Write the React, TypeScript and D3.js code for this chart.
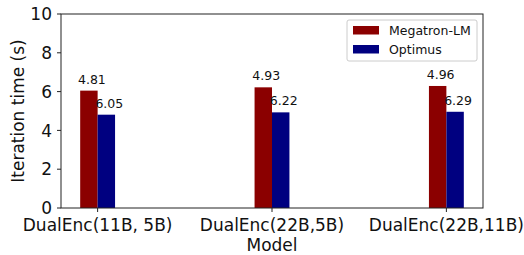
import * as React from 'react';
import * as d3 from 'd3';

const categories = ['DualEnc(11B, 5B)', 'DualEnc(22B,5B)', 'DualEnc(22B,11B)'];
const megatron = [6.05, 6.22, 6.29];
const optimus = [4.81, 4.93, 4.96];
// the labels in the source chart sit on the other series' bar
const megatronLabels = ['4.81', '4.93', '4.96'];
const optimusLabels = ['6.05', '6.22', '6.29'];
const yTicks = [0, 2, 4, 6, 8, 10];

const W = 524;
const H = 255;
const margin = {left: 61, right: 41, top: 14, bottom: 47};
const font = 'DejaVu Sans, sans-serif';

export default function App() {
    const plotW = W - margin.left - margin.right;
    const plotH = H - margin.top - margin.bottom;
    const x = d3.scaleLinear().domain([-0.21, 2.21]).range([0, plotW]);
    const y = d3.scaleLinear().domain([0, 10]).range([plotH, 0]);
    const bw = x(0.1) - x(0);

    return (
        <svg width={W} height={H} style={{position: 'absolute', left: 0, top: 0}} fontFamily={font}>
            <rect width={W} height={H} fill="white"/>
            <g transform={`translate(${margin.left},${margin.top})`}>
                {categories.map((c, i) => (
                    <g key={c}>
                        <rect x={x(i) - bw} y={y(megatron[i])} width={bw} height={plotH - y(megatron[i])} fill="#8b0000"/>
                        <rect x={x(i)} y={y(optimus[i])} width={bw} height={plotH - y(optimus[i])} fill="#000080"/>
                        <text x={x(i) - bw / 2 + 3} y={y(megatron[i]) - 7} fontSize={12.5} textAnchor="middle" fill="#111">{megatronLabels[i]}</text>
                        <text x={x(i) + bw / 2 + 3} y={y(optimus[i]) - 7} fontSize={12.5} textAnchor="middle" fill="#111">{optimusLabels[i]}</text>
                        <line x1={x(i)} x2={x(i)} y1={plotH} y2={plotH + 4} stroke="#222"/>
                        <text x={x(i)} y={plotH + 23} fontSize={17} textAnchor="middle" fill="#111">{c}</text>
                    </g>
                ))}
                {yTicks.map(t => (
                    <g key={t}>
                        <line x1={-4} x2={0} y1={y(t)} y2={y(t)} stroke="#222"/>
                        <text x={-9} y={y(t)} dy="0.36em" fontSize={17} textAnchor="end" fill="#111">{t}</text>
                    </g>
                ))}
                <rect x={0} y={0} width={plotW} height={plotH} fill="none" stroke="#222" strokeWidth={1}/>
                <text transform={`translate(-37,${plotH / 2}) rotate(-90)`} fontSize={17} textAnchor="middle" fill="#111">Iteration time (s)</text>
                <text x={x(1)} y={plotH + 43} fontSize={17} textAnchor="middle" fill="#111">Model</text>
                <g transform={`translate(${plotW - 136},6)`}>
                    <rect x={0} y={0} width={130} height={41} rx={2} fill="white" stroke="#ccc"/>
                    <rect x={6} y={6} width={26} height={8.5} fill="#8b0000"/>
                    <rect x={6} y={25} width={26} height={8.5} fill="#000080"/>
                    <text x={42} y={15} fontSize={12.5} fill="#111">Megatron-LM</text>
                    <text x={42} y={34} fontSize={12.5} fill="#111">Optimus</text>
                </g>
            </g>
        </svg>
    );
}
